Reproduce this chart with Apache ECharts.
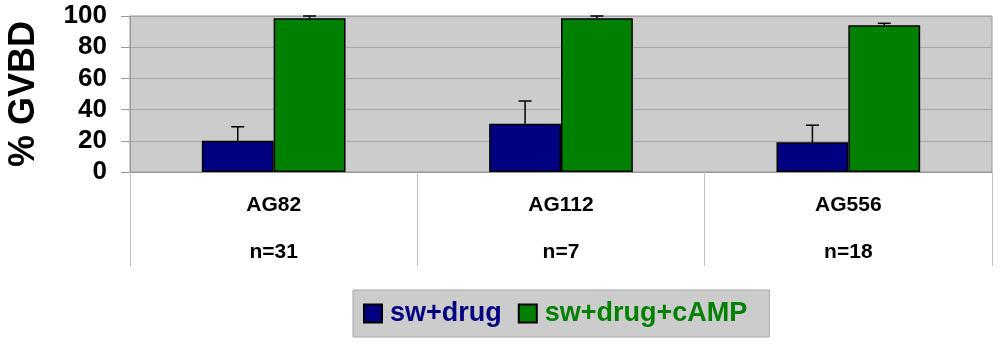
<!DOCTYPE html>
<html><head><meta charset="utf-8">
<script src="https://cdn.jsdelivr.net/npm/echarts@6/dist/echarts.min.js"></script>
<style>html,body{margin:0;padding:0;background:#fff}#c{width:1000px;height:344px}</style>
</head><body><div id="c"></div>
<script>
var categories = ['AG82', 'AG112', 'AG556'];
var nLabels = ['n=31', 'n=7', 'n=18'];
var seriesNames = ['sw+drug', 'sw+drug+cAMP'];
var drugValues = [20, 31, 19];
var drugErrors = [9, 14.5, 11];
var campValues = [98.5, 98.5, 94];
var campErrors = [1.5, 1.5, 1.3];
var yTicks = [0, 20, 40, 60, 80, 100];

var FONT = '"Liberation Sans", Arial, sans-serif';
var colors = ['#000080', '#008000'];

function errData(vals, errs) {
  return vals.map(function (v, i) { return [i, v, v + errs[i]]; });
}
function errRender(sign) {
  return function (params, api) {
    var i = api.value(0);
    var c0 = api.coord([i, api.value(1)]);
    var c1 = api.coord([i, api.value(2)]);
    var bw = api.size([1, 0])[0] * 0.25;
    var x = c0[0] + sign * bw / 2;
    var half = 6.5;
    return {
      type: 'group',
      children: [
        {type: 'line', shape: {x1: x, y1: c0[1], x2: x, y2: c1[1]}, style: {stroke: '#000', lineWidth: 1.5}},
        {type: 'line', shape: {x1: x - half, y1: c1[1], x2: x + half, y2: c1[1]}, style: {stroke: '#000', lineWidth: 1.5}}
      ]
    };
  };
}

var chart = echarts.init(document.getElementById('c'), null, {renderer: 'canvas'});
chart.setOption({
  animation: false,
  textStyle: {fontFamily: FONT},
  grid: {left: 130, right: 8, top: 16, bottom: 172, show: true, backgroundColor: '#cccccc', borderColor: '#999999', borderWidth: 1, containLabel: false, outerBoundsMode: 'none'},
  legend: {
    left: 353, top: 290,
    backgroundColor: '#cccccc', borderColor: '#a8a8a8', borderWidth: 1,
    padding: [10, 22, 10, 10],
    itemWidth: 18, itemHeight: 18, itemGap: 16,
    icon: 'rect',
    data: [
      {name: seriesNames[0], textStyle: {color: colors[0]}},
      {name: seriesNames[1], textStyle: {color: colors[1]}}
    ],
    textStyle: {fontFamily: FONT, fontSize: 27, fontWeight: 'bold', padding: [0, 0, 0, 3]}
  },
  xAxis: {
    type: 'category',
    data: categories,
    axisLine: {show: true, lineStyle: {color: '#999999'}},
    axisTick: {show: true, length: 94, lineStyle: {color: '#c0c0c0', width: 1}},
    axisLabel: {
      margin: 10,
      formatter: function (v, idx) { return '{a|' + v + '}\n{b|' + nLabels[idx] + '}'; },
      rich: {
        a: {fontFamily: FONT, fontSize: 21, fontWeight: 'bold', color: '#000', lineHeight: 47},
        b: {fontFamily: FONT, fontSize: 21, fontWeight: 'bold', color: '#000', lineHeight: 47}
      }
    }
  },
  yAxis: {
    type: 'value', min: 0, max: 100, interval: 20,
    name: '% GVBD', nameLocation: 'middle', nameRotate: 90, nameGap: 88,
    nameTextStyle: {fontFamily: FONT, fontSize: 36, fontWeight: 'bold', color: '#000'},
    axisLine: {show: true, lineStyle: {color: '#999999'}},
    axisTick: {show: true, inside: false, length: 9, lineStyle: {color: '#999999'}},
    splitLine: {show: true, lineStyle: {color: '#a6a6a6', width: 1}},
    axisLabel: {
      margin: 23, fontFamily: FONT, fontSize: 26, fontWeight: 'bold', color: '#000',
      formatter: function (v) { return yTicks.indexOf(v) >= 0 ? String(v) : ''; }
    }
  },
  series: [
    {name: seriesNames[0], type: 'bar', data: drugValues, barGap: '0%', barCategoryGap: '50%',
     itemStyle: {color: colors[0], borderColor: '#000', borderWidth: 1.5}},
    {name: seriesNames[1], type: 'bar', data: campValues, barGap: '0%', barCategoryGap: '50%',
     itemStyle: {color: colors[1], borderColor: '#000', borderWidth: 1.5}},
    {type: 'custom', data: errData(drugValues, drugErrors), renderItem: errRender(-1), z: 5, silent: true},
    {type: 'custom', data: errData(campValues, campErrors), renderItem: errRender(1), z: 5, silent: true}
  ]
});
</script></body></html>
